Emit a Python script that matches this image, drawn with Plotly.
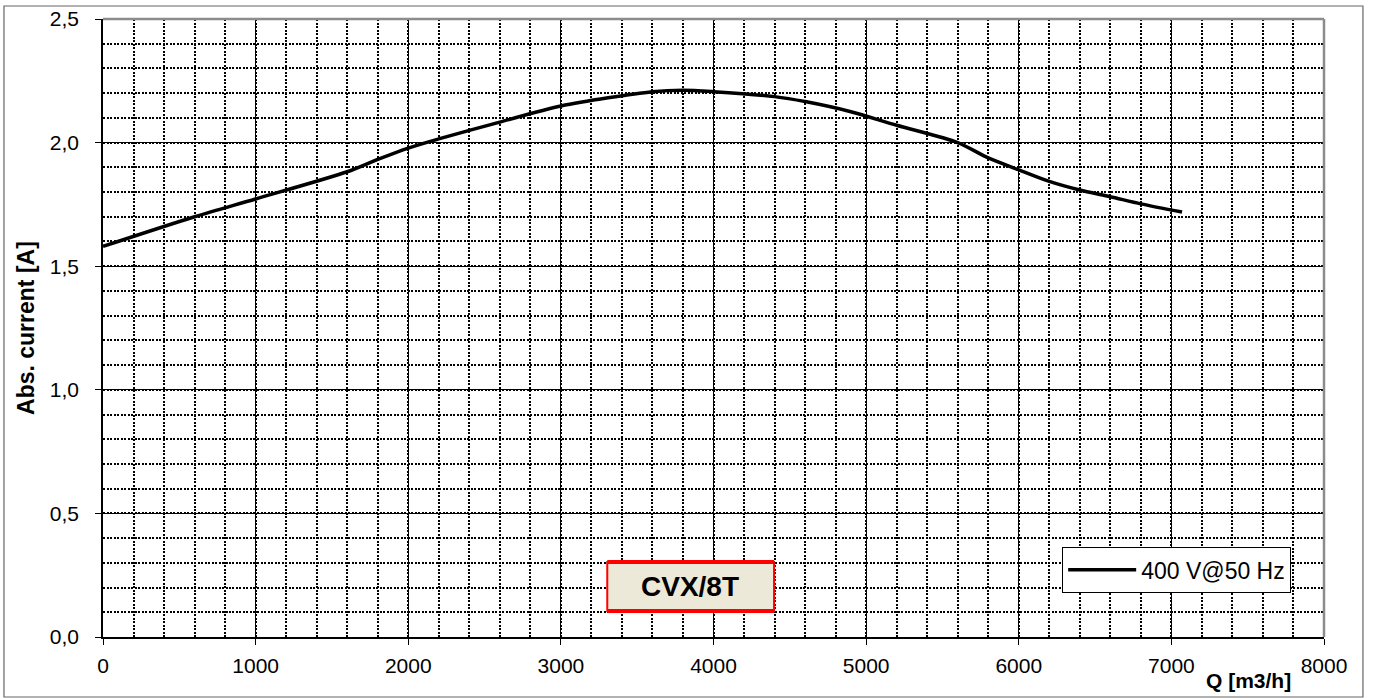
import plotly.graph_objects as go

# Data
flow_q = [0, 600, 1000, 1600, 1800, 2000, 2200, 2600, 3000, 3600, 3800,
          4000, 4400, 4600, 4900, 5200, 5600, 5800, 6000, 6200, 6400, 6600, 6800, 7070]
current_a = [1.58, 1.70, 1.772, 1.882, 1.932, 1.978, 2.015, 2.083, 2.148, 2.206, 2.212,
             2.206, 2.186, 2.166, 2.125, 2.07, 2.0, 1.938, 1.89, 1.843, 1.808, 1.781, 1.752, 1.719]
series_name = "400 V@50 Hz"
x_ticks = [0, 1000, 2000, 3000, 4000, 5000, 6000, 7000, 8000]
y_ticks = [0.0, 0.5, 1.0, 1.5, 2.0, 2.5]
model_label = "CVX/8T"

FONT = "Arial, Liberation Sans, sans-serif"

fig = go.Figure()
fig.add_trace(go.Scatter(
    x=flow_q, y=current_a, mode="lines", name=series_name,
    line=dict(color="black", width=3.5, shape="spline", smoothing=0.8),
    showlegend=True,
))

axis_common = dict(
    showline=True, linecolor="black", linewidth=1.5,
    ticks="outside", ticklen=6, tickcolor="black", tickwidth=1,
    showgrid=True, gridcolor="black", gridwidth=1,
    zeroline=False,
    tickfont=dict(family=FONT, size=21, color="black"),
)

fig.update_xaxes(
    range=[0, 8000], tickmode="array", tickvals=x_ticks,
    ticklabelstandoff=3,
    minor=dict(dtick=200, showgrid=True, gridcolor="black", griddash="2px,1.5px",
               gridwidth=1.8, ticks=""),
    **axis_common,
)
fig.update_yaxes(
    range=[0, 2.5], tickmode="array", tickvals=y_ticks, tickformat=".1f",
    ticklabelstandoff=12,
    minor=dict(dtick=0.1, showgrid=True, gridcolor="black", griddash="2px,1.5px",
               gridwidth=1.8, ticks=""),
    **axis_common,
)

shapes = [
    # outer frame
    dict(type="rect", xref="paper", yref="paper", x0=-0.0811, x1=1.0319, y0=-0.0971, y1=1.021,
         line=dict(color="#666666", width=1.2), fillcolor="rgba(0,0,0,0)", layer="below"),
    # gray top and right plot borders
    dict(type="line", xref="paper", yref="paper", x0=0, x1=1, y0=1, y1=1,
         line=dict(color="#8c8c8c", width=2.5)),
    dict(type="line", xref="paper", yref="paper", x0=1, x1=1, y0=0, y1=1,
         line=dict(color="#8c8c8c", width=2.5)),
    # model label box
    dict(type="rect", xref="paper", yref="paper", x0=0.413, x1=0.5496, y0=0.042, y1=0.1214,
         line=dict(color="#ff0000", width=2), fillcolor="#ECE9D8"),
    dict(type="line", xref="paper", yref="paper", x0=0.413, x1=0.5496, y0=0.1214, y1=0.1214,
         line=dict(color="#ff0000", width=4)),
    dict(type="line", xref="paper", yref="paper", x0=0.413, x1=0.5496, y0=0.042, y1=0.042,
         line=dict(color="#ff0000", width=4)),
]

annotations = [
    dict(text=model_label, xref="paper", yref="paper", x=0.4808, y=0.0825,
         showarrow=False, font=dict(family=FONT, size=28, color="black", weight="bold"),
         xanchor="center", yanchor="middle"),
    dict(text="Abs. current [A]", xref="paper", yref="paper", x=-0.0631, y=0.5,
         showarrow=False, textangle=-90, font=dict(family=FONT, size=23, color="black", weight="bold"),
         xanchor="center", yanchor="middle"),
    dict(text="Q [m3/h]", xref="paper", yref="paper", x=0.9378, y=-0.0696,
         showarrow=False, font=dict(family=FONT, size=21, color="black", weight="bold"),
         xanchor="center", yanchor="middle"),
]

fig.update_layout(
    width=1373, height=698,
    margin=dict(l=103, r=49, t=19, b=61, autoexpand=False),
    paper_bgcolor="white", plot_bgcolor="white",
    separators=",.",
    font=dict(family=FONT, color="black"),
    shapes=shapes, annotations=annotations,
    showlegend=True,
    legend=dict(
        x=0.7854, y=0.1456, xanchor="left", yanchor="top",
        bgcolor="white", bordercolor="black", borderwidth=1.2,
        font=dict(family=FONT, size=23, color="black"),
        itemwidth=68,
    ),
)

fig.write_html("out.html", config={"displayModeBar": False},
               post_script="document.body.style.margin='0';")
